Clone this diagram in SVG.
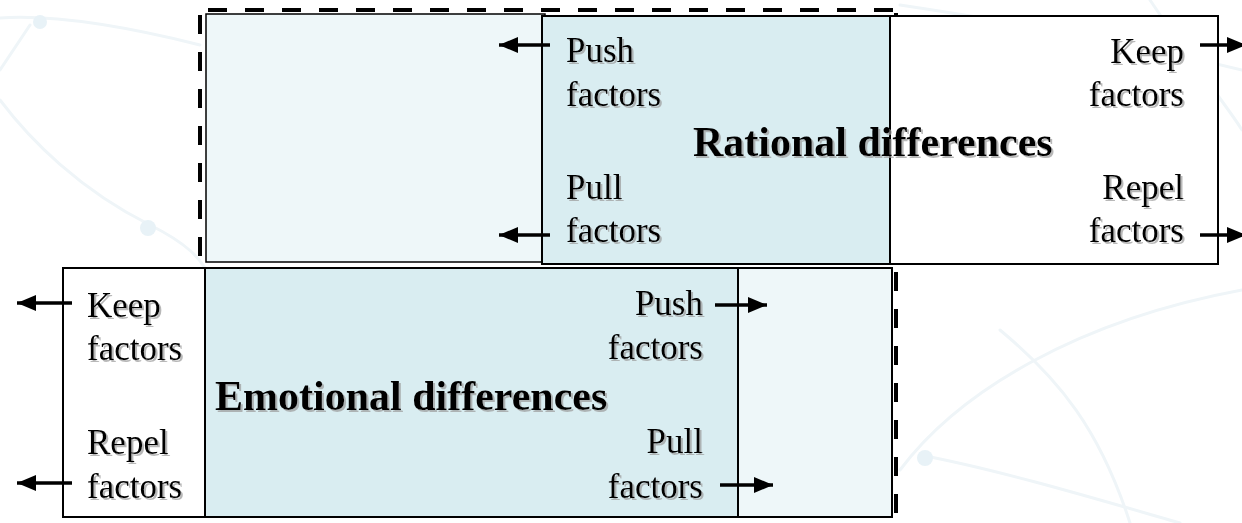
<svg xmlns="http://www.w3.org/2000/svg" width="1242" height="523" viewBox="0 0 1242 523">
<defs>
<style>
.txt{font-family:"Liberation Serif","Times New Roman",serif;font-size:35px;fill:#000;filter:url(#sh)}
.ttl{font-family:"Liberation Serif","Times New Roman",serif;font-size:42px;font-weight:bold;fill:#000;filter:url(#sh)}
.end{text-anchor:end}
.box{stroke:#000;stroke-width:2}
.div{stroke:#000;stroke-width:2}
.dash{stroke:#000;stroke-width:4;stroke-dasharray:19 18;fill:none}
.arr{stroke:#000;stroke-width:3.5;fill:none;marker-end:url(#ah)}
.bg{stroke:#eff5f8;stroke-width:3;fill:none;stroke-linecap:round}
</style>
<filter id="sh" x="-5%" y="-20%" width="110%" height="140%">
<feDropShadow dx="2" dy="2" stdDeviation="0.7" flood-color="#9a9a9a" flood-opacity="0.7"/>
</filter>
<marker id="ah" markerUnits="userSpaceOnUse" markerWidth="19" markerHeight="16" refX="19" refY="8" orient="auto">
<path d="M0,0 L19,8 L0,16 z" fill="#000"/>
</marker>
</defs>
<rect width="1242" height="523" fill="#fff"/>
<g id="background">
<path class="bg" d="M0,18 C60,14 140,30 200,45"/>
<path class="bg" d="M0,100 C30,140 80,190 150,225 C190,245 200,260 205,268"/>
<path class="bg" d="M30,25 L0,70"/>
<path class="bg" d="M900,5 C1000,20 1120,40 1242,70"/>
<path class="bg" d="M1150,0 C1190,60 1230,110 1242,130"/>
<path class="bg" d="M900,470 C960,390 1080,320 1242,290"/>
<path class="bg" d="M920,455 C1000,470 1100,500 1180,523"/>
<path class="bg" d="M1000,330 C1060,380 1100,430 1130,523"/>
<circle cx="40" cy="22" r="7" fill="#e8f2f7"/>
<circle cx="148" cy="228" r="8" fill="#e8f2f7"/>
<circle cx="925" cy="458" r="8" fill="#e8f2f7"/>
</g>
<g id="grouping-frame">
<line class="dash" x1="208" y1="10" x2="896" y2="10"/>
<line class="dash" x1="200" y1="15" x2="200" y2="518"/>
<line class="dash" x1="896" y1="8" x2="896" y2="518" style="stroke-dashoffset:-5"/>
<rect x="206" y="14" width="339" height="248" fill="#eef7f9" stroke="#000" stroke-width="1.5"/>
</g>
<g id="rational">
<rect class="box" x="542" y="16" width="676" height="248" fill="#fff"/>
<rect x="543" y="17" width="347" height="246" fill="#d9edf1"/>
<line class="div" x1="890" y1="16" x2="890" y2="264"/>
<text class="txt" x="566" y="62">Push</text>
<text class="txt" x="566" y="106">factors</text>
<text class="txt" x="566" y="199">Pull</text>
<text class="txt" x="566" y="242">factors</text>
<text class="txt end" x="1184" y="63">Keep</text>
<text class="txt end" x="1184" y="106">factors</text>
<text class="txt end" x="1184" y="199">Repel</text>
<text class="txt end" x="1184" y="242">factors</text>
<text class="ttl" x="693" y="156">Rational differences</text>
</g>
<g id="emotional">
<rect class="box" x="63" y="268" width="829" height="249" fill="#fff"/>
<rect x="205" y="269" width="533" height="247" fill="#d9edf1"/>
<rect x="738" y="269" width="153" height="247" fill="#eef7f9"/>
<line class="div" x1="205" y1="268" x2="205" y2="517"/>
<line class="div" x1="738" y1="268" x2="738" y2="517"/>
<text class="txt" x="87" y="317">Keep</text>
<text class="txt" x="87" y="360">factors</text>
<text class="txt" x="87" y="454">Repel</text>
<text class="txt" x="87" y="498">factors</text>
<text class="txt end" x="703" y="315">Push</text>
<text class="txt end" x="703" y="359">factors</text>
<text class="txt end" x="703" y="453">Pull</text>
<text class="txt end" x="703" y="498">factors</text>
<text class="ttl" x="215" y="410">Emotional differences</text>
</g>
<g id="connectors">
<line class="arr" x1="550" y1="45" x2="499" y2="45"/>
<line class="arr" x1="550" y1="235" x2="499" y2="235"/>
<line class="arr" x1="1200" y1="45" x2="1246" y2="45"/>
<line class="arr" x1="1200" y1="235" x2="1246" y2="235"/>
<line class="arr" x1="72" y1="303" x2="17" y2="303"/>
<line class="arr" x1="72" y1="483" x2="17" y2="483"/>
<line class="arr" x1="715" y1="305" x2="767" y2="305"/>
<line class="arr" x1="720" y1="485" x2="773" y2="485"/>
</g>
</svg>
